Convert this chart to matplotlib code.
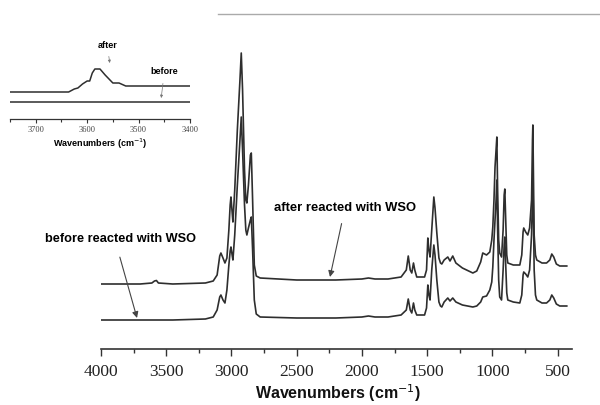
import matplotlib
matplotlib.use("Agg")
import matplotlib.pyplot as plt
from matplotlib.lines import Line2D
from matplotlib.ticker import MultipleLocator

# ---- main spectra (wavenumber, absorbance a.u., offset) ----
wn = [4000, 3700, 3610, 3590, 3575, 3560, 3450, 3200, 3140, 3110, 3090, 3081, 3065, 3050,
      3035, 3020, 3010, 3004, 2995, 2989, 2975, 2955, 2935, 2925, 2915, 2900, 2890, 2882,
      2870, 2855, 2848, 2838, 2825, 2810, 2780, 2500, 2200, 2000, 1950, 1900, 1800, 1700,
      1660, 1645, 1630, 1618, 1605, 1595, 1580, 1520, 1505, 1495, 1487, 1478, 1465, 1449,
      1440, 1426, 1410, 1398, 1388, 1370, 1342, 1325, 1304, 1280, 1230, 1150, 1120, 1090,
      1074, 1045, 1020, 1005, 997, 988, 980, 972, 966, 960, 952, 944, 930, 918, 910, 905,
      898, 890, 882, 840, 790, 775, 765, 760, 745, 729, 715, 700, 693, 690, 686, 680, 670,
      660, 620, 585, 560, 545, 530, 510, 484, 430]

after = [0.65, 0.65, 0.66, 0.68, 0.685, 0.66, 0.65, 0.66, 0.68, 0.74, 0.93, 0.96, 0.91, 0.86,
         0.91, 1.19, 1.44, 1.52, 1.37, 1.27, 1.59, 2.19, 2.69, 2.96, 2.59, 1.79, 1.49, 1.46,
         1.64, 1.94, 1.96, 1.49, 0.84, 0.73, 0.71, 0.69, 0.69, 0.70, 0.71, 0.70, 0.70, 0.72,
         0.79, 0.93, 0.79, 0.76, 0.86, 0.79, 0.72, 0.72, 0.79, 1.11, 0.99, 0.92, 1.19, 1.52,
         1.41, 1.16, 0.91, 0.86, 0.85, 0.89, 0.92, 0.88, 0.93, 0.86, 0.81, 0.76, 0.78, 0.87,
         0.96, 0.94, 0.97, 1.09, 1.22, 1.49, 1.82, 1.99, 2.12, 1.59, 1.09, 0.96, 0.92, 1.19,
         1.54, 1.60, 1.29, 0.94, 0.86, 0.84, 0.84, 0.94, 1.17, 1.21, 1.17, 1.14, 1.21, 1.49,
         2.09, 2.24, 1.79, 1.14, 0.94, 0.89, 0.86, 0.86, 0.89, 0.95, 0.92, 0.85, 0.83, 0.83]

before = [0.29, 0.29, 0.29, 0.29, 0.29, 0.29, 0.29, 0.30, 0.32, 0.39, 0.52, 0.54, 0.49, 0.46,
          0.59, 0.84, 0.98, 1.02, 0.94, 0.89, 1.14, 1.64, 2.09, 2.32, 1.99, 1.44, 1.19, 1.14,
          1.21, 1.29, 1.32, 0.99, 0.49, 0.35, 0.32, 0.31, 0.31, 0.32, 0.33, 0.32, 0.32, 0.34,
          0.39, 0.50, 0.39, 0.36, 0.46, 0.39, 0.34, 0.34, 0.41, 0.64, 0.54, 0.49, 0.79, 1.04,
          0.94, 0.69, 0.47, 0.43, 0.42, 0.47, 0.51, 0.48, 0.51, 0.47, 0.44, 0.42, 0.43, 0.47,
          0.52, 0.53, 0.59, 0.67, 0.82, 1.09, 1.29, 1.49, 1.69, 1.19, 0.69, 0.52, 0.49, 0.79,
          1.04, 1.12, 0.84, 0.56, 0.49, 0.47, 0.46, 0.54, 0.74, 0.77, 0.75, 0.72, 0.79, 1.14,
          1.54, 1.69, 1.39, 0.79, 0.54, 0.49, 0.46, 0.46, 0.49, 0.54, 0.51, 0.45, 0.43, 0.43]

# ---- inset (O-H region) ----
wn_in = [3750, 3636, 3625, 3618, 3609, 3600, 3595, 3590, 3585, 3575, 3565, 3550, 3538, 3525, 3400]
after_in = [0.27, 0.27, 0.30, 0.31, 0.35, 0.38, 0.38, 0.46, 0.50, 0.50, 0.44, 0.36, 0.36, 0.33, 0.33]
before_in = [0.17] * len(wn_in)

main_ticks = [4000, 3500, 3000, 2500, 2000, 1500, 1000, 500]
inset_ticks = [3700, 3600, 3500, 3400]

W, H = 600, 405
fig = plt.figure(figsize=(W / 100, H / 100), dpi=100)
lc = "#2e2e2e"
serif = "Liberation Serif"
sans = "Liberation Sans"

# main axes
ax = fig.add_axes([101 / W, (H - 349) / H, 471 / W, 330 / H])
ax.plot(wn, after, color=lc, lw=1.2)
ax.plot(wn, before, color=lc, lw=1.2)
ax.set_xlim(4000, 390)
ax.set_ylim(0, 3.3)
for s in ["left", "right", "top"]:
    ax.spines[s].set_visible(False)
ax.spines["bottom"].set_color("#333333")
ax.spines["bottom"].set_linewidth(1.2)
ax.set_yticks([])
ax.set_xticks(main_ticks)
ax.xaxis.set_minor_locator(MultipleLocator(250))
ax.tick_params(axis="x", which="major", direction="out", length=5, width=1, color="#333333",
               pad=6, labelsize=12.5)
ax.tick_params(axis="x", which="minor", direction="out", length=3, width=1, color="#333333")
for lab in ax.get_xticklabels():
    lab.set_fontfamily(serif)
    lab.set_color("#222222")
fig.text(338 / W, 1 - 393 / H, "Wavenumbers (cm$^{-1}$)", ha="center", va="center",
         fontsize=11.5, fontweight="bold", family=sans, color="#111111")

ax.annotate("after reacted with WSO", xy=(2245, 0.72), xytext=(2130, 1.41),
            ha="center", va="center", fontsize=9.4, fontweight="bold", family=sans,
            arrowprops=dict(arrowstyle="-|>", color="#444444", lw=0.8, mutation_scale=9,
                            shrinkA=5, shrinkB=0))
ax.annotate("before reacted with WSO", xy=(3724, 0.31), xytext=(3847, 1.10),
            ha="center", va="center", fontsize=9.2, fontweight="bold", family=sans,
            arrowprops=dict(arrowstyle="-|>", color="#444444", lw=0.8, mutation_scale=9,
                            shrinkA=7, shrinkB=0, relpos=(0.47, 0.0)))

# inset axes
ai = fig.add_axes([10 / W, (H - 119) / H, 180 / W, 79 / H])
ai.plot(wn_in, after_in, color=lc, lw=1.1)
ai.plot(wn_in, before_in, color=lc, lw=1.1)
ai.set_xlim(3750, 3400)
ai.set_ylim(0, 0.79)
ai.patch.set_alpha(0)
for s in ["left", "right", "top"]:
    ai.spines[s].set_visible(False)
ai.spines["bottom"].set_linewidth(0.9)
ai.spines["bottom"].set_color("#333333")
ai.set_yticks([])
ai.set_xticks(inset_ticks)
ai.xaxis.set_minor_locator(MultipleLocator(50))
ai.tick_params(axis="x", which="major", direction="out", length=3, width=0.8, pad=2,
               labelsize=6, color="#333333")
ai.tick_params(axis="x", which="minor", direction="out", length=2, width=0.8, color="#333333")
for lab in ai.get_xticklabels():
    lab.set_fontfamily(serif)
    lab.set_color("#444444")
ai.set_xlabel("Wavenumbers (cm$^{-1}$)", fontsize=6.5, fontweight="bold", family=sans,
              labelpad=2)
ai.annotate("after", xy=(3556, 0.56), xytext=(3561, 0.74), ha="center", va="center",
            fontsize=6.5, fontweight="bold", family=sans,
            arrowprops=dict(arrowstyle="-|>", color="#777777", lw=0.5, mutation_scale=4,
                            shrinkA=3, shrinkB=0))
ai.annotate("before", xy=(3456, 0.21), xytext=(3450, 0.47), ha="center", va="center",
            fontsize=6.5, fontweight="bold", family=sans,
            arrowprops=dict(arrowstyle="-|>", color="#777777", lw=0.5, mutation_scale=4,
                            shrinkA=3, shrinkB=0))

# thin rule at the top
fig.add_artist(Line2D([218 / W, 1.0], [1 - 14 / H, 1 - 14 / H], color="#aaaaaa", lw=1.0))

fig.savefig("out.png", dpi=100)
